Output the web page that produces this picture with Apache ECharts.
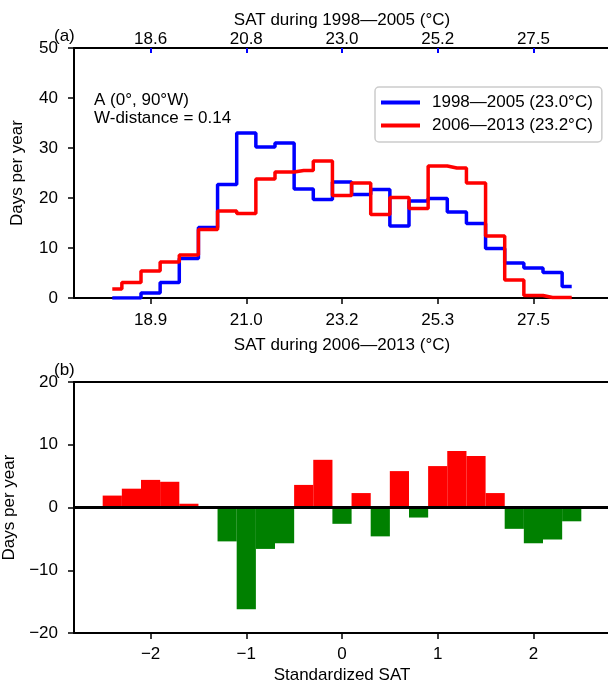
<!DOCTYPE html>
<html>
<head>
<meta charset="utf-8">
<script src="https://cdn.jsdelivr.net/npm/echarts@6/dist/echarts.min.js"></script>
<style>
  html, body { margin: 0; padding: 0; background: #fff; }
  #chart { width: 608px; height: 683px; }
</style>
</head>
<body>
<div id="chart"></div>
<script>
// bin centres in standardized SAT units
const binCenters = [-2.4, -2.2, -2.0, -1.8, -1.6, -1.4, -1.2, -1.0, -0.8, -0.6, -0.4, -0.2, 0,
  0.2, 0.4, 0.6, 0.8, 1.0, 1.2, 1.4, 1.6, 1.8, 2.0, 2.2, 2.4]
// days per year, 1998-2005 (blue) and 2006-2013 (red)
const days9805 = [0, 0, 1.0, 3.1, 7.9, 14.1, 22.7, 33.0, 30.2, 31.0, 21.8, 19.7, 23.2,
  20.7, 21.7, 14.4, 19.4, 19.9, 17.2, 14.9, 9.9, 7.0, 6.0, 5.1, 2.3]
const days0613 = [1.8, 3.1, 5.4, 7.2, 8.6, 13.7, 17.4, 16.9, 23.8, 25.2, 25.5, 27.4, 20.5,
  23.0, 16.7, 20.1, 17.9, 26.4, 26.0, 23.0, 12.4, 3.6, 0.5, 0.1, 0.1]
// difference panel (b)
const daysDiff = [1.9, 3.0, 4.4, 4.1, 0.6, -0.2, -5.4, -16.2, -6.6, -5.7, 3.6, 7.6, -2.6,
  2.3, -4.6, 5.8, -1.6, 6.6, 9.0, 8.2, 2.3, -3.4, -5.7, -5.1, -2.2]

const stdTicks = [-2, -1, 0, 1, 2]
const topTickLabels = ['18.6', '20.8', '23.0', '25.2', '27.5']   // 1998-2005
const bottomTickLabels = ['18.9', '21.0', '23.2', '25.3', '27.5'] // 2006-2013
const seriesNames = ['1998\u20142005 (23.0\u00b0C)', '2006\u20142013 (23.2\u00b0C)']

const FONT = "'Liberation Sans', Arial, sans-serif"
const FS = 17
const txt = { color: '#000', fontFamily: FONT, fontSize: FS }

const minus = v => String(v).replace('-', '\u2212')

const chart = echarts.init(document.getElementById('chart'), null, { renderer: 'canvas' })

function stdAxis(gridIndex, position, opts) {
  return Object.assign({
    type: 'value',
    gridIndex: gridIndex,
    position: position,
    min: -2.8,
    max: 2.8,
    splitLine: { show: false },
    axisLine: { show: true, onZero: false, lineStyle: { color: '#000', width: 2 } },
    axisTick: { show: true, customValues: stdTicks, length: 6, lineStyle: { color: '#000', width: 1.5 } },
    axisLabel: { show: true, customValues: stdTicks, margin: 14, ...txt },
    nameTextStyle: txt
  }, opts)
}

function daysAxis(gridIndex, min, max) {
  return {
    type: 'value',
    gridIndex: gridIndex,
    min: min,
    max: max,
    interval: 10,
    name: 'Days per year',
    nameLocation: 'middle',
    nameGap: 48,
    nameTextStyle: txt,
    splitLine: { show: false },
    axisLine: { show: true, onZero: false, lineStyle: { color: '#000', width: 2 } },
    axisTick: { show: true, length: 6, lineStyle: { color: '#000', width: 1.5 } },
    axisLabel: { margin: 16, ...txt, formatter: v => minus(v) }
  }
}

chart.setOption({
  animation: false,
  backgroundColor: '#fff',
  grid: [
    { left: 74, right: -2, top: 48, height: 250, containLabel: false, outerBoundsMode: 'none' },
    { left: 74, right: -2, top: 382, height: 251, containLabel: false, outerBoundsMode: 'none' }
  ],
  xAxis: [
    stdAxis(0, 'bottom', {
      name: 'SAT during 2006\u20142013 (\u00b0C)',
      nameLocation: 'middle',
      nameGap: 39,
      axisLabel: { show: true, customValues: stdTicks, margin: 14, ...txt,
        formatter: v => bottomTickLabels[stdTicks.indexOf(v)] }
    }),
    stdAxis(0, 'top', {
      name: 'SAT during 1998\u20142005 (\u00b0C)',
      nameLocation: 'middle',
      nameGap: 19,
      axisTick: { show: true, inside: true, customValues: stdTicks, length: 5,
        lineStyle: { color: '#0000ff', width: 2 } },
      axisLabel: { show: true, customValues: stdTicks, margin: 0, ...txt,
        formatter: v => topTickLabels[stdTicks.indexOf(v)] }
    }),
    stdAxis(1, 'bottom', {
      name: 'Standardized SAT',
      nameLocation: 'middle',
      nameGap: 34,
      axisLabel: { show: true, customValues: stdTicks, margin: 13, ...txt, formatter: v => minus(v) }
    }),
    stdAxis(1, 'top', {
      axisTick: { show: false },
      axisLabel: { show: false }
    })
  ],
  yAxis: [daysAxis(0, 0, 50), daysAxis(1, -20, 20)],
  legend: {
    data: seriesNames,
    orient: 'vertical',
    left: 375,
    top: 87,
    icon: 'rect',
    itemWidth: 39,
    itemHeight: 4,
    itemGap: 6,
    padding: [7, 9, 8, 6],
    borderColor: '#cccccc',
    borderWidth: 1.5,
    borderRadius: 4,
    backgroundColor: '#fff',
    textStyle: { ...txt, padding: [0, 0, 0, 7] }
  },
  graphic: [
    { type: 'text', x: 54, y: 36, style: { text: '(a)', font: FS + 'px ' + FONT, fill: '#000', verticalAlign: 'middle' } },
    { type: 'text', x: 54, y: 370, style: { text: '(b)', font: FS + 'px ' + FONT, fill: '#000', verticalAlign: 'middle' } },
    { type: 'text', x: 94, y: 100, style: { text: 'A (0\u00b0, 90\u00b0W)', font: FS + 'px ' + FONT, fill: '#000', verticalAlign: 'middle' } },
    { type: 'text', x: 94, y: 118, style: { text: 'W-distance = 0.14', font: FS + 'px ' + FONT, fill: '#000', verticalAlign: 'middle' } }
  ],
  series: [
    {
      name: seriesNames[0],
      type: 'line',
      step: 'middle',
      xAxisIndex: 0,
      yAxisIndex: 0,
      symbol: 'none',
      lineStyle: { color: '#0000ff', width: 3.5 },
      itemStyle: { color: '#0000ff' },
      data: binCenters.map((x, i) => [x, days9805[i]])
    },
    {
      name: seriesNames[1],
      type: 'line',
      step: 'middle',
      xAxisIndex: 0,
      yAxisIndex: 0,
      symbol: 'none',
      lineStyle: { color: '#ff0000', width: 3.5 },
      itemStyle: { color: '#ff0000' },
      data: binCenters.map((x, i) => [x, days0613[i]])
    },
    {
      name: 'difference',
      type: 'bar',
      xAxisIndex: 2,
      yAxisIndex: 1,
      barWidth: 19.2,
      itemStyle: {
        color: p => (p.value[1] >= 0 ? '#ff0000' : '#008000')
      },
      data: binCenters.map((x, i) => [x, daysDiff[i]]),
      markLine: {
        silent: true,
        symbol: 'none',
        label: { show: false },
        lineStyle: { color: '#000', width: 3, type: 'solid' },
        data: [{ yAxis: 0 }]
      }
    }
  ]
})
</script>
</body>
</html>
